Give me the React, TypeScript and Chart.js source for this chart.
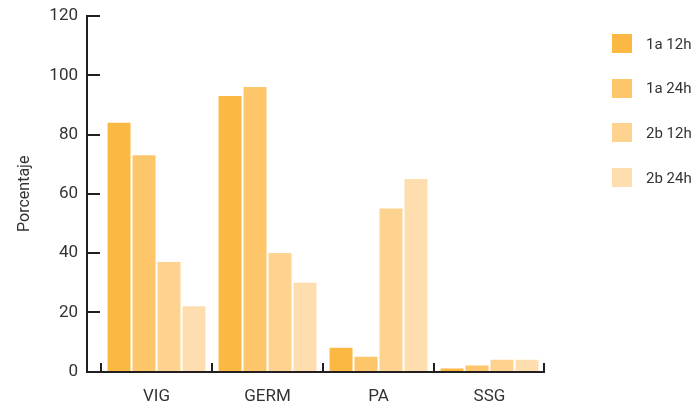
import React, { useEffect, useRef } from "react";
import { Chart, registerables } from "chart.js";

Chart.register(...registerables);

const categories = ["VIG", "GERM", "PA", "SSG"];
const seriesLabels = ["1a 12h", "1a 24h", "2b 12h", "2b 24h"];
const values1a12h = [84, 93, 8, 1];
const values1a24h = [73, 96, 5, 2];
const values2b12h = [37, 40, 55, 4];
const values2b24h = [22, 30, 65, 4];
const seriesColors = ["#FBB843", "#FDC66A", "#FDD38F", "#FEDEAF"];
const yTicks = [0, 20, 40, 60, 80, 100, 120];

const FONT = "Roboto, 'DejaVu Sans', sans-serif";
const AXIS_COLOR = "#231f20";
const TEXT_COLOR = "#333333";

const axesPlugin = {
  id: "customAxes",
  afterDatasetsDraw(chart: any) {
    const { ctx, chartArea, scales } = chart;
    const x = scales.x;
    const y = scales.y;
    const axisX = chartArea.left - 14;
    const bottom = Math.round(chartArea.bottom);
    ctx.save();
    ctx.strokeStyle = AXIS_COLOR;
    ctx.lineWidth = 2;
    ctx.lineCap = "butt";
    // y axis line
    ctx.beginPath();
    ctx.moveTo(axisX, Math.round(y.getPixelForValue(120)) - 1);
    ctx.lineTo(axisX, bottom + 1);
    ctx.stroke();
    // y ticks pointing inward
    yTicks.forEach((v) => {
      if (v === 0) return;
      const py = Math.round(y.getPixelForValue(v));
      ctx.beginPath();
      ctx.moveTo(axisX - 1, py);
      ctx.lineTo(chartArea.left - 1, py);
      ctx.stroke();
    });
    // x axis line
    ctx.beginPath();
    ctx.moveTo(axisX - 1, bottom);
    ctx.lineTo(chartArea.right, bottom);
    ctx.stroke();
    // x ticks at category boundaries
    const n = categories.length;
    const w = x.getPixelForValue(1) - x.getPixelForValue(0);
    for (let i = 0; i <= n; i++) {
      let px = Math.round(x.getPixelForValue(0) - w / 2 + i * w);
      if (i === n) px -= 1;
      ctx.beginPath();
      ctx.moveTo(px, bottom);
      ctx.lineTo(px, bottom - 9);
      ctx.stroke();
    }
    ctx.restore();
  },
};

export default function App() {
  const canvasRef = useRef<HTMLCanvasElement | null>(null);

  useEffect(() => {
    if (!canvasRef.current) return;
    const seriesData = [values1a12h, values1a24h, values2b12h, values2b24h];
    const chart = new Chart(canvasRef.current, {
      type: "bar",
      data: {
        labels: categories,
        datasets: seriesData.map((d, i) => ({
          label: seriesLabels[i],
          data: d,
          backgroundColor: seriesColors[i],
          borderWidth: 0,
          categoryPercentage: 0.9,
          barPercentage: 0.92,
        })),
      },
      options: {
        animation: false,
        responsive: true,
        maintainAspectRatio: false,
        layout: { padding: { left: 0, top: 16, right: 150, bottom: 0 } },
        plugins: {
          legend: { display: false },
          tooltip: { enabled: false },
        },
        scales: {
          x: {
            grid: { display: false, drawTicks: false },
            border: { display: false },
            ticks: {
              color: TEXT_COLOR,
              font: { family: FONT, size: 17 },
              padding: 15,
            },
            afterFit: (s: any) => {
              s.height = 34.5;
              s.paddingLeft = 0;
              s.paddingRight = 0;
            },
          },
          y: {
            min: 0,
            max: 120,
            grid: { display: false, drawTicks: false },
            border: { display: false },
            ticks: {
              stepSize: 20,
              color: TEXT_COLOR,
              font: { family: FONT, size: 17 },
              padding: 23,
            },
            title: {
              display: true,
              text: "Porcentaje",
              color: TEXT_COLOR,
              font: { family: FONT, size: 16 },
              padding: { top: 15, bottom: 0 },
            },
            afterFit: (s: any) => {
              s.width = 101;
              s.paddingTop = 0;
              s.paddingBottom = 0;
            },
          },
        },
      },
      plugins: [axesPlugin],
    });
    return () => chart.destroy();
  }, []);

  return (
    <div
      style={{
        position: "fixed",
        left: 0,
        top: 0,
        width: 695,
        height: 406,
        background: "#ffffff",
      }}
    >
      <canvas ref={canvasRef} />
      {seriesLabels.map((label, i) => (
        <div
          key={label}
          style={{
            position: "absolute",
            left: 612,
            top: 43.5 + i * 44.7 - 10,
            height: 20,
            display: "flex",
            alignItems: "center",
            fontFamily: FONT,
            fontSize: 15,
            color: TEXT_COLOR,
          }}
        >
          <span
            style={{
              display: "inline-block",
              width: 20,
              height: 19,
              background: seriesColors[i],
              marginRight: 14,
            }}
          />
          <span>{label}</span>
        </div>
      ))}
    </div>
  );
}
